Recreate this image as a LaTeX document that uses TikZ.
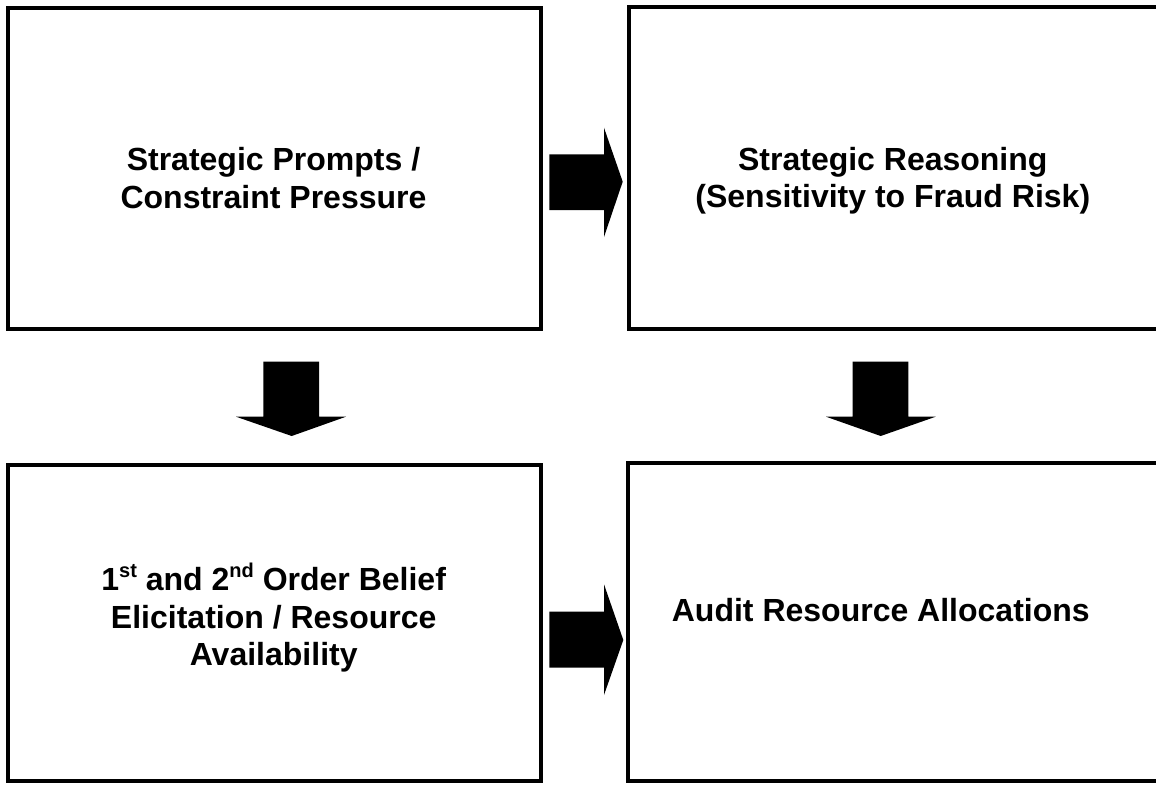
\documentclass[tikz,border=0pt]{standalone}
\usepackage{fontspec}
\setmainfont{Liberation Sans}
\newcommand{\supx}[1]{{\fontsize{20}{20}\selectfont\raisebox{13.5pt}{#1}}}
\tikzset{
  box/.style={draw=black, line width=4pt, rectangle, inner sep=0pt, outer sep=0pt},
  label/.style={inner sep=0pt, outer sep=0pt, align=center, anchor=base,
    font=\fontsize{32}{37.5}\selectfont\bfseries},
  blockarrow/.style={fill=black, draw=none}
}
\begin{document}
\begin{tikzpicture}[x=1pt, y=-1pt]
\useasboundingbox (0,0) rectangle (1156,785);
% boxes
\node[box, minimum width=532.5pt, minimum height=320.5pt] (tl) at (274.25,168.25) {};
\node[box, minimum width=541.5pt, minimum height=321.5pt] (tr) at (899.25,167.75) {};
\node[box, minimum width=532.5pt, minimum height=316pt] (bl) at (274.25,623) {};
\node[box, minimum width=542pt, minimum height=318pt] (br) at (899,622) {};
% texts (anchor = baseline of last line)
\node[label] (tlt) at (273.5,208) {Strategic Prompts /\\Constraint Pressure};
\node[label] (trt) at (892.8,207.5) {Strategic Reasoning\\(Sensitivity to Fraud Risk)};
\node[label] (blt) at (273.7,665.5) {1\supx{st} and 2\supx{nd} Order Belief\\Elicitation / Resource\\Availability};
\node[label] (brt) at (880.8,621.7) {Audit Resource Allocations};
% block arrows
\fill[blockarrow] (549.3,154.3) -- (604,154.3) -- (604,127.7) -- (622.7,181.7) -- (604,237) -- (604,210) -- (549.3,210) -- cycle;
\fill[blockarrow] (549.3,611.7) -- (604,611.7) -- (604,584.3) -- (623.3,640) -- (604,695) -- (604,667.7) -- (549.3,667.7) -- cycle;
\fill[blockarrow] (263.3,361.7) -- (319,361.7) -- (319,416.7) -- (346,416.7) -- (291.7,436) -- (236,416.7) -- (263.3,416.7) -- cycle;
\fill[blockarrow] (852.7,361.7) -- (908.3,361.7) -- (908.3,416.7) -- (935.7,416.7) -- (880.7,436) -- (826,416.7) -- (852.7,416.7) -- cycle;
\end{tikzpicture}
\end{document}
